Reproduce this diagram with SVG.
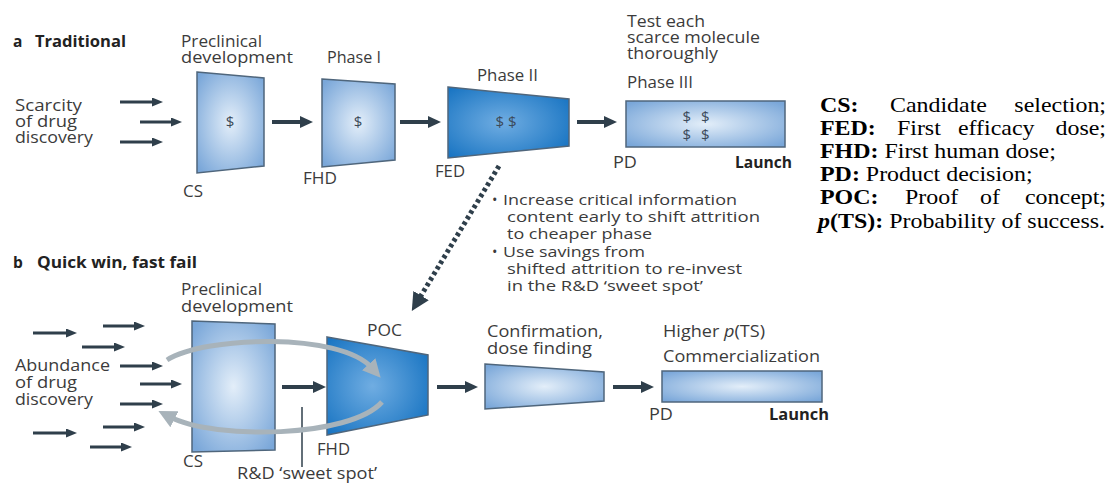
<svg xmlns="http://www.w3.org/2000/svg" width="1111" height="483" viewBox="0 0 1111 483">
<style>
.t{font-family:"Open Sans","Noto Sans",sans-serif;font-size:15.5px;fill:#3b3b3b}
.s{font-family:"Open Sans","Noto Sans",sans-serif;font-size:14.5px;fill:#3b3b3b}
.h{font-family:"Open Sans","Noto Sans",sans-serif;font-size:15.5px;font-weight:bold;fill:#222}
.d{font-family:"Open Sans","Noto Sans",sans-serif;font-size:15px;fill:#3b4a5a;text-anchor:middle}
.lg{font-family:"Liberation Serif","Times New Roman",serif;font-size:21px;fill:#000}
.b{font-weight:bold}
.box{stroke:#4f667c;stroke-width:1.5}
.arr{stroke:#2f3f4b;stroke-width:4;fill:none;marker-end:url(#ah)}
.in{stroke:#2f3f4b;stroke-width:3;fill:none;marker-end:url(#ahs)}
.loop{stroke:#a8b3ba;stroke-width:5;fill:none;marker-end:url(#ahg)}
</style>
<defs>
<radialGradient id="gl" cx="50%" cy="50%" r="65%">
<stop offset="0" stop-color="#e3eef9"/>
<stop offset="1" stop-color="#7aa7d9"/>
</radialGradient>
<radialGradient id="gd" cx="45%" cy="50%" r="65%">
<stop offset="0" stop-color="#70ade2"/>
<stop offset="1" stop-color="#1874c2"/>
</radialGradient>
<marker id="ah" markerUnits="userSpaceOnUse" markerWidth="13" markerHeight="12" refX="4" refY="6" orient="auto">
<path d="M0,0 L13,6 L0,12 z" fill="#2f3f4b"/>
</marker>
<marker id="ahs" markerUnits="userSpaceOnUse" markerWidth="11" markerHeight="9" refX="3" refY="4.5" orient="auto">
<path d="M0,0 L11,4.5 L0,9 z" fill="#2f3f4b"/>
</marker>
<marker id="ahg" markerUnits="userSpaceOnUse" markerWidth="18" markerHeight="18" refX="5" refY="9" orient="auto">
<path d="M0,0 L18,9 L0,18 z" fill="#a8b3ba"/>
</marker>
<marker id="ahd" markerUnits="userSpaceOnUse" markerWidth="18" markerHeight="18" refX="4" refY="9" orient="auto">
<path d="M0,0 L18,9 L0,18 z" fill="#2f3f4b"/>
</marker>
</defs>

<!-- Section a -->
<g id="title-a"><text x="13" y="47" class="h">a</text><text x="35" y="47" class="h" textLength="91" lengthAdjust="spacingAndGlyphs">Traditional</text></g>
<g id="scarcity">
<text x="15" y="111" class="t" textLength="67" lengthAdjust="spacingAndGlyphs">Scarcity</text>
<text x="15" y="127" class="t" textLength="62" lengthAdjust="spacingAndGlyphs">of drug</text>
<text x="15" y="143" class="t" textLength="78" lengthAdjust="spacingAndGlyphs">discovery</text>
</g>

<g id="a-preclinical">
<text x="181" y="47" class="t" textLength="81" lengthAdjust="spacingAndGlyphs">Preclinical</text>
<text x="181" y="63" class="t" textLength="112" lengthAdjust="spacingAndGlyphs">development</text>
<polygon class="box" points="197,72 264,78 264,166 197,173" fill="url(#gl)"/>
<text x="230" y="127" class="d">$</text>
<text x="183" y="197" class="t" textLength="20" lengthAdjust="spacingAndGlyphs">CS</text>
</g>
<g id="a-phase1">
<text x="327" y="63" class="t" textLength="54" lengthAdjust="spacingAndGlyphs">Phase I</text>
<polygon class="box" points="322,79 395,84 395,160 322,167" fill="url(#gl)"/>
<text x="358" y="127" class="d">$</text>
<text x="303" y="184" class="t" textLength="34" lengthAdjust="spacingAndGlyphs">FHD</text>
</g>
<g id="a-phase2">
<text x="477" y="81" class="t" textLength="61" lengthAdjust="spacingAndGlyphs">Phase II</text>
<polygon class="box" points="448,87 569,99 569,146 448,158" fill="url(#gd)"/>
<text x="506" y="127" class="d">$ $</text>
<text x="435" y="177" class="t" textLength="30" lengthAdjust="spacingAndGlyphs">FED</text>
</g>
<g id="a-phase3">
<text x="627" y="27" class="t" textLength="78" lengthAdjust="spacingAndGlyphs">Test each</text>
<text x="627" y="43" class="t" textLength="133" lengthAdjust="spacingAndGlyphs">scarce molecule</text>
<text x="627" y="59" class="t" textLength="91" lengthAdjust="spacingAndGlyphs">thoroughly</text>
<text x="627" y="88" class="t" textLength="66" lengthAdjust="spacingAndGlyphs">Phase III</text>
<rect class="box" x="626" y="101" width="159" height="46" fill="url(#gl)"/>
<text x="696" y="122" class="d">$ <tspan dx="6">$</tspan></text>
<text x="696" y="140" class="d">$ <tspan dx="6">$</tspan></text>
<text x="613" y="168" class="t" textLength="24" lengthAdjust="spacingAndGlyphs">PD</text>
<text x="735" y="168" class="h" textLength="57" lengthAdjust="spacingAndGlyphs">Launch</text>
</g>

<!-- notes -->
<g id="notes">
<text x="492" y="205" class="s">•</text>
<text x="503" y="205" class="s" textLength="234" lengthAdjust="spacingAndGlyphs">Increase critical information</text>
<text x="507" y="222" class="s" textLength="253" lengthAdjust="spacingAndGlyphs">content early to shift attrition</text>
<text x="507" y="239" class="s" textLength="145" lengthAdjust="spacingAndGlyphs">to cheaper phase</text>
<text x="492" y="257" class="s">•</text>
<text x="503" y="257" class="s" textLength="142" lengthAdjust="spacingAndGlyphs">Use savings from</text>
<text x="507" y="274" class="s" textLength="235" lengthAdjust="spacingAndGlyphs">shifted attrition to re-invest</text>
<text x="507" y="291" class="s" textLength="196" lengthAdjust="spacingAndGlyphs">in the R&amp;D ‘sweet spot’</text>
</g>

<!-- Section b -->
<g id="title-b"><text x="13" y="268" class="h">b</text><text x="37" y="268" class="h" textLength="160" lengthAdjust="spacingAndGlyphs">Quick win, fast fail</text></g>
<g id="abundance">
<text x="15" y="371" class="t" textLength="95" lengthAdjust="spacingAndGlyphs">Abundance</text>
<text x="15" y="388" class="t" textLength="62" lengthAdjust="spacingAndGlyphs">of drug</text>
<text x="15" y="405" class="t" textLength="78" lengthAdjust="spacingAndGlyphs">discovery</text>
</g>

<g id="b-preclinical">
<text x="181" y="295" class="t" textLength="81" lengthAdjust="spacingAndGlyphs">Preclinical</text>
<text x="181" y="312" class="t" textLength="112" lengthAdjust="spacingAndGlyphs">development</text>
<polygon class="box" points="192,321 275,324 275,450 192,452" fill="url(#gl)"/>
<text x="183" y="467" class="t" textLength="20" lengthAdjust="spacingAndGlyphs">CS</text>
</g>
<g id="b-poc">
<text x="367" y="336" class="t" textLength="35" lengthAdjust="spacingAndGlyphs">POC</text>
<polygon class="box" points="327,337 428,355 428,415 327,435" fill="url(#gd)"/>
<text x="317" y="455" class="t" textLength="33" lengthAdjust="spacingAndGlyphs">FHD</text>
</g>
<g id="b-confirm">
<text x="487" y="337" class="t" textLength="116" lengthAdjust="spacingAndGlyphs">Confirmation,</text>
<text x="487" y="354" class="t" textLength="105" lengthAdjust="spacingAndGlyphs">dose finding</text>
<polygon class="box" points="485,364 604,372 604,401 485,409" fill="url(#gl)"/>
</g>
<g id="b-commercial">
<text x="663" y="337" class="t" textLength="102" lengthAdjust="spacingAndGlyphs">Higher <tspan font-style="italic">p</tspan>(TS)</text>
<text x="663" y="362" class="t" textLength="157" lengthAdjust="spacingAndGlyphs">Commercialization</text>
<rect class="box" x="662" y="371" width="160" height="31" fill="url(#gl)"/>
<text x="649" y="420" class="t" textLength="24" lengthAdjust="spacingAndGlyphs">PD</text>
<text x="769" y="420" class="h" textLength="60" lengthAdjust="spacingAndGlyphs">Launch</text>
</g>
<g id="sweet-spot">
<line x1="302" y1="407" x2="302" y2="467" stroke="#2f3f4b" stroke-width="1.5"/>
<text x="237" y="479" class="t" textLength="140" lengthAdjust="spacingAndGlyphs">R&amp;D ‘sweet spot’</text>
</g>

<!-- Connectors -->
<g id="connectors">
<line class="in" x1="120" y1="102" x2="155" y2="102"/>
<line class="in" x1="140" y1="122" x2="174" y2="122"/>
<line class="in" x1="120" y1="142" x2="155" y2="142"/>
<line class="arr" x1="272" y1="122" x2="304" y2="122"/>
<line class="arr" x1="400" y1="122" x2="432" y2="122"/>
<line class="arr" x1="577" y1="122" x2="608" y2="122"/>
<line stroke="#2f3f4b" stroke-width="5" stroke-dasharray="3.5 3" fill="none" marker-end="url(#ahd)" x1="499" y1="166" x2="419" y2="299"/>

<line class="in" x1="33" y1="333" x2="69" y2="333"/>
<line class="in" x1="103" y1="326" x2="137" y2="326"/>
<line class="in" x1="82" y1="347" x2="117" y2="347"/>
<line class="in" x1="120" y1="366" x2="155" y2="366"/>
<line class="in" x1="140" y1="384" x2="174" y2="384"/>
<line class="in" x1="120" y1="404" x2="155" y2="404"/>
<line class="in" x1="103" y1="427" x2="137" y2="427"/>
<line class="in" x1="33" y1="433" x2="69" y2="433"/>
<line class="in" x1="90" y1="447" x2="124" y2="447"/>
<line class="arr" x1="282" y1="387" x2="317" y2="387"/>
<line class="arr" x1="437" y1="387" x2="469" y2="387"/>
<line class="arr" x1="613" y1="387" x2="645" y2="387"/>
<path class="loop" d="M167,360 C205,336 340,332 372,368"/>
<path class="loop" d="M382,402 C350,438 215,440 170,417"/>
</g>

<!-- Legend -->
<g id="legend" class="lg" transform="translate(820 0) scale(1.14 1)">
<text y="112"><tspan class="b" x="0">CS:</tspan><tspan x="61.4">Candidate</tspan></text>
<text y="112" x="250.9" text-anchor="end">selection;</text>
<text y="135"><tspan class="b" x="0">FED:</tspan><tspan x="67.5">First</tspan><tspan x="121">efficacy</tspan></text>
<text y="135" x="250.9" text-anchor="end">dose;</text>
<text y="158" x="0"><tspan class="b">FHD:</tspan> First human dose;</text>
<text y="181" x="0"><tspan class="b">PD:</tspan> Product decision;</text>
<text y="204"><tspan class="b" x="0">POC:</tspan><tspan x="74.6">Proof</tspan><tspan x="140.4">of</tspan></text>
<text y="204" x="250.9" text-anchor="end">concept;</text>
<text y="228" x="-1.7"><tspan class="b" font-style="italic">p</tspan><tspan class="b">(TS):</tspan> Probability of success.</text>
</g>
</svg>
